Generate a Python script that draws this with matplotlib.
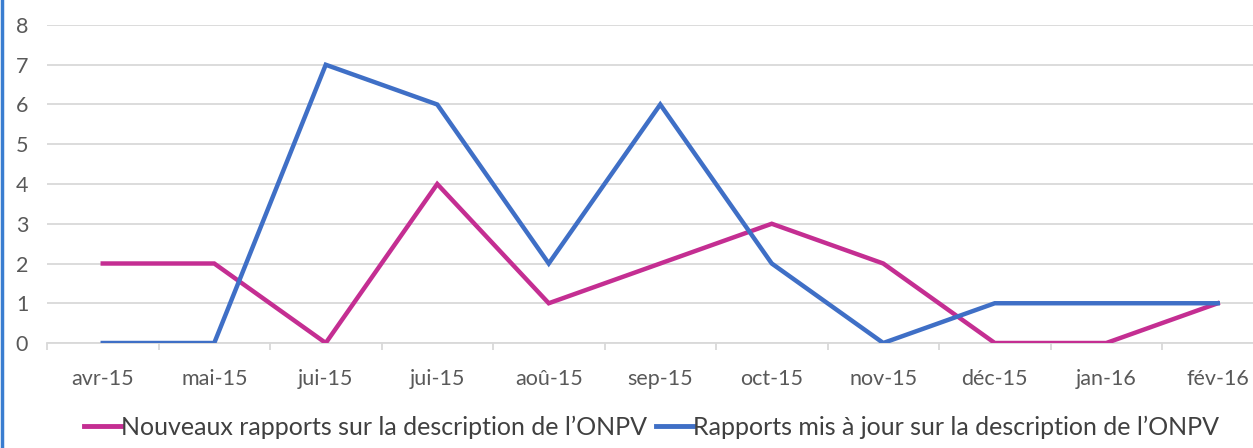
import matplotlib.pyplot as plt
from matplotlib.lines import Line2D
import numpy as np

months = ['avr-15', 'mai-15', 'jui-15', 'jui-15', 'aoû-15', 'sep-15',
          'oct-15', 'nov-15', 'déc-15', 'jan-16', 'fév-16']
nouveaux = [2, 2, 0, 4, 1, 2, 3, 2, 0, 0, 1]
mis_a_jour = [0, 0, 7, 6, 2, 6, 2, 0, 1, 1, 1]
labels = ["Nouveaux rapports sur la description de l\u2019ONPV",
          "Rapports mis à jour sur la description de l\u2019ONPV"]

pink = '#C42E92'
blue = '#3F6FC6'
grey = '#595959'

plt.rcParams['font.family'] = ['Lato', 'DejaVu Sans']

fig = plt.figure(figsize=(12.53, 4.48), dpi=100)
ax = fig.add_axes([47 / 1253, 105 / 448, 1226.5 / 1253, 318 / 448])

x = np.arange(len(months))
ax.plot(x, nouveaux, color=pink, lw=3.2, solid_joinstyle='miter', label=labels[0], zorder=3)
ax.plot(x, mis_a_jour, color=blue, lw=3.2, solid_joinstyle='miter', label=labels[1], zorder=3)

ax.set_xlim(-0.5, len(months) - 0.5)
ax.set_ylim(0, 8)
ax.set_yticks(range(0, 9))
ax.grid(axis='y', color='#D9D9D9', lw=1.3)
ax.set_axisbelow(True)

ax.set_xticks(x)
ax.set_xticklabels(months)
ax.set_xticks(np.arange(-0.5, len(months)), minor=True)
ax.tick_params(axis='x', which='major', length=0, pad=19, labelsize=15.5, labelcolor=grey)
ax.tick_params(axis='x', which='minor', length=5, color='#D9D9D9', width=1.3)
ax.tick_params(axis='y', length=0, pad=18, labelsize=15.5, labelcolor=grey)
for lab in ax.get_yticklabels():
    lab.set_horizontalalignment('center')

for s in ['top', 'right', 'left']:
    ax.spines[s].set_visible(False)
ax.spines['bottom'].set_color('#D9D9D9')
ax.spines['bottom'].set_linewidth(1.3)

handles = [Line2D([], [], color=pink, lw=3.5), Line2D([], [], color=blue, lw=3.5)]
fig.legend(handles, labels, loc='center', bbox_to_anchor=(0.52, 0.047), ncol=2,
           frameon=False, fontsize=18, handlelength=1.5, handletextpad=0.0,
           columnspacing=0.35, labelcolor='#404040')

fig.add_artist(Line2D([0.0012, 0.0012], [0, 1], color='#3A7DD0', lw=2.5,
                      transform=fig.transFigure))

fig.savefig('out.png', dpi=100)
